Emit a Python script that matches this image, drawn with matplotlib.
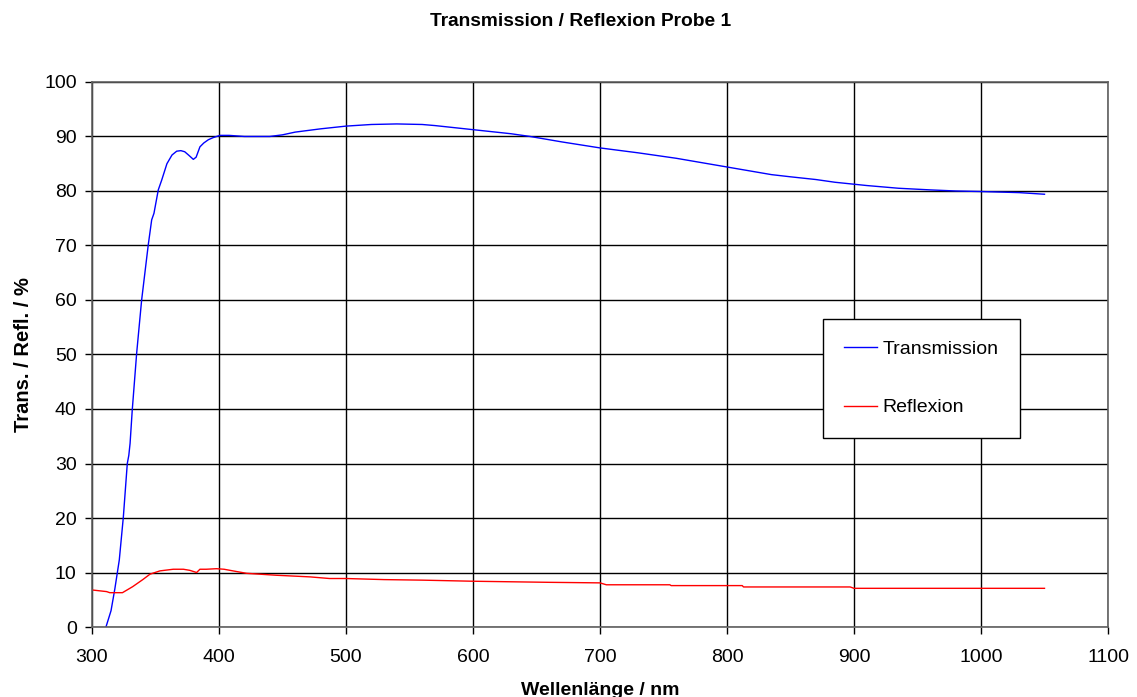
import matplotlib.pyplot as plt
import numpy as np

plt.rcParams['font.family'] = ['Liberation Sans', 'DejaVu Sans']

# Transmission curve (wavelength nm, %)
trans_nm = [311, 315, 318, 321.5, 324.7, 327.8, 329, 330, 331.7, 335.2, 339.1, 344.3, 347, 348.8,
            352.2, 354.9, 359, 363, 366.7, 370, 373, 376, 379.8, 382, 385, 388, 391.6, 395.5, 400.8,
            408, 420, 440, 450, 460, 480, 500, 520, 540, 560, 570, 590, 610, 630, 645, 670, 700,
            730, 760, 785, 810, 835, 850, 870, 885, 910, 935, 960, 980, 1000, 1030, 1050]
trans_val = [0, 3, 7, 12.3, 20.2, 30, 31.5, 33.7, 39.8, 50.3, 60, 70.1, 74.7, 75.9,
             80.2, 82, 85, 86.6, 87.3, 87.4, 87.2, 86.6, 85.8, 86.2, 88.1, 88.8, 89.4, 89.8, 90.2,
             90.2, 90.0, 90.0, 90.3, 90.8, 91.4, 91.9, 92.2, 92.3, 92.2, 92.0, 91.5, 91.0, 90.5,
             90.0, 89.0, 87.9, 87.0, 86.0, 85.0, 84.0, 83.0, 82.6, 82.1, 81.6, 81.0, 80.5, 80.2,
             80.0, 79.9, 79.7, 79.4]

# Reflexion curve (wavelength nm, %)
refl_nm = [300, 311.5, 314, 324, 332, 340, 345.7, 353.5, 364, 372, 377, 382.4, 385, 390, 398,
           404, 411, 421.8, 445, 471.6, 487, 500, 530, 560, 600, 630, 660, 700, 705, 755, 756,
           812, 813, 897, 900, 1050]
refl_val = [6.8, 6.5, 6.3, 6.3, 7.4, 8.7, 9.7, 10.3, 10.6, 10.6, 10.4, 10.0, 10.6, 10.6, 10.7,
            10.6, 10.3, 9.85, 9.5, 9.2, 8.9, 8.9, 8.7, 8.6, 8.4, 8.3, 8.2, 8.1, 7.75, 7.75, 7.6,
            7.6, 7.35, 7.35, 7.1, 7.1]

fig = plt.figure(figsize=(11.37, 6.97), dpi=100)
ax = fig.add_axes([0.0809, 0.1004, 0.8936, 0.782])

ax.plot(trans_nm, trans_val, color='#0000ff', lw=1.0, label='Transmission')
ax.plot(refl_nm, refl_val, color='#ff0000', lw=1.0, label='Reflexion')

ax.set_xlim(300, 1100)
ax.set_ylim(0, 100)
ax.set_xticks(np.arange(300, 1101, 100))
ax.set_yticks(np.arange(0, 101, 10))
ax.grid(True, color='black', lw=1)
ax.set_axisbelow(True)
ax.tick_params(direction='out', length=5, width=1, labelsize=14, colors='black')
ax.tick_params(axis='x', pad=11)
ax.tick_params(axis='y', pad=6)
for s in ax.spines.values():
    s.set_color('#606060')
    s.set_linewidth(1.2)

ax.set_xlabel('Wellenlänge / nm', fontsize=14, fontweight='bold', labelpad=11)
ax.set_ylabel('Trans. / Refl. / %', fontsize=14.5, fontweight='bold', labelpad=8)
fig.text(0.511, 0.969, 'Transmission / Reflexion Probe 1', ha='center', va='center',
         fontsize=13.8, fontweight='bold')

leg = ax.legend(loc='upper left', bbox_to_anchor=(0.7195, 0.5651), fontsize=14,
                frameon=True, fancybox=False, edgecolor='black', framealpha=1,
                labelspacing=2.1, handlelength=1.7, handletextpad=0.26,
                borderpad=1.1, borderaxespad=0)
leg.get_frame().set_linewidth(1)

fig.savefig('out.png', dpi=100)
